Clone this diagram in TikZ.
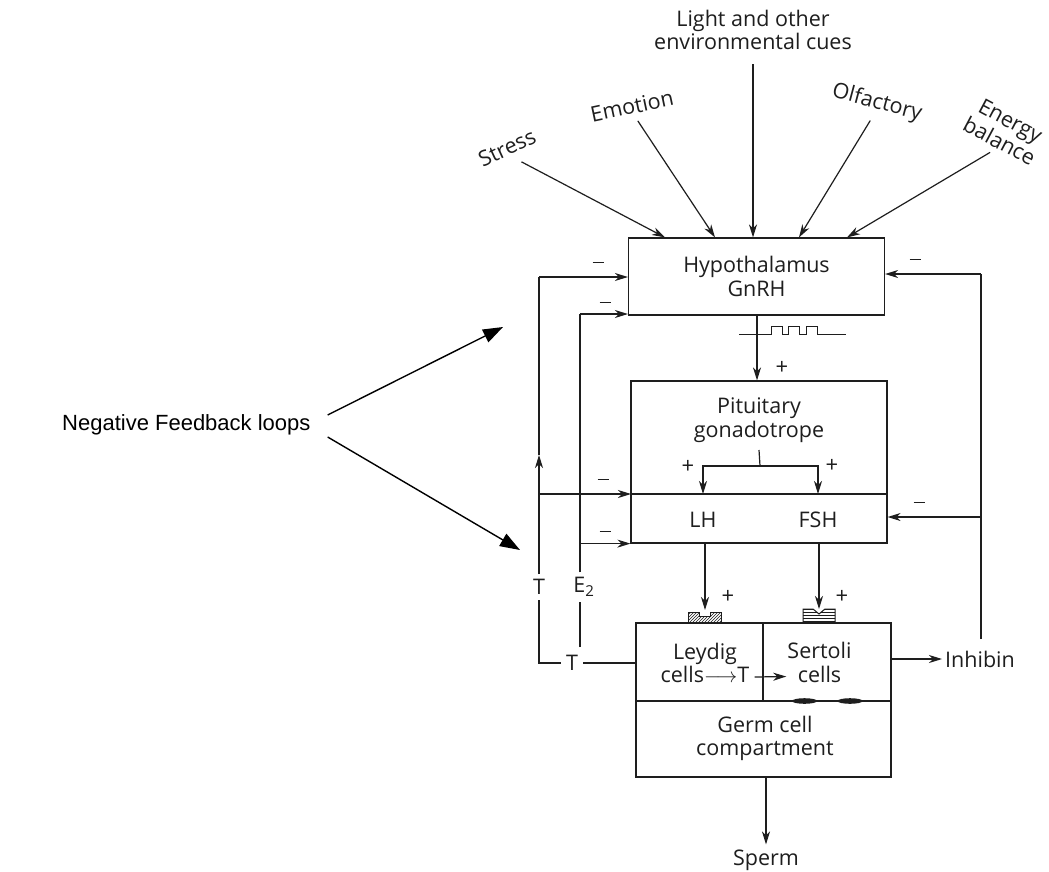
\documentclass[tikz,border=0pt]{standalone}
\usepackage{fontspec}
\setmainfont{Open Sans}
\newfontfamily\notefont{Liberation Sans}
\usetikzlibrary{arrows.meta,positioning,patterns}
\definecolor{inkGrey}{RGB}{30,30,30}
\tikzset{
  organ/.style={draw=inkGrey,line width=1.2pt,inner sep=0pt},
  lbl/.style={text=inkGrey,font=\fontsize{21.5}{23.5}\selectfont,align=center,inner sep=1pt},
  sgn/.style={text=inkGrey,font=\fontsize{22}{22}\selectfont,inner sep=0pt},
  wire/.style={draw=inkGrey,line width=1.2pt},
  arr/.style={wire,-{Stealth[length=13pt,width=8pt,inset=4pt]}},
  bigarr/.style={draw=black,line width=1.4pt,-{Triangle[length=20pt,width=14pt]}}
}
\newcommand{\minussign}{\rule[0.25em]{11pt}{1.3pt}}

\begin{document}
\begin{tikzpicture}[x=1pt,y=-1pt]
  \useasboundingbox (0,0) rectangle (1049,871);
  \fill[white] (0,0) rectangle (1049,871);

  % boites principales
  \node[organ,lbl,minimum width=256pt,minimum height=77pt] (hyp) at (756.5,276.5) {Hypothalamus\\GnRH};
  \node[organ,minimum width=256pt,minimum height=162pt] (pit) at (759,462) {};
  \node[organ,minimum width=255pt,minimum height=154pt] (tes) at (763.5,700) {};

  \coordinate (dvL) at (631,494);
  \coordinate (dvR) at (887,494);
  \draw[wire] (dvL) -- (dvR);
  \node[lbl] (gona) at (759,420) {Pituitary\\gonadotrope};
  \node[lbl] (lh) at (703,520) {LH};
  \node[lbl] (fsh) at (818,520) {FSH};

  \coordinate (tsTop) at (763,623);
  \coordinate (tsMid) at (763,701);
  \draw[wire] (tsTop) -- (tsMid);
  \draw[wire] (tes.west |- tsMid) -- (tes.east |- tsMid);
  \node[lbl] (ley) at (705,663) {Leydig\\cells$\longrightarrow$T};
  \node[lbl] (ser) at (819.5,662.5) {Sertoli\\cells};
  \node[lbl] (germ) at (765,738.5) {Germ cell\\compartment};
  \node[lbl,anchor=west,inner sep=3pt] (inh) at (942,659) {Inhibin};
  \node[lbl] (sperm) at (766,860) {Sperm};

  % entrees vers l'hypothalamus
  \node[lbl] (light) at (753,30) {Light and other\\environmental cues};
  \node[lbl,rotate=25] (stress) at (507,148) {Stress};
  \node[lbl,rotate=12] (emo) at (632,106) {Emotion};
  \node[lbl,rotate=-15] (olf) at (877,103) {Olfactory};
  \node[lbl,rotate=-28] (ener) at (1005,131) {Energy\\balance};
  \draw[arr,shorten <=12pt] (stress.south) -- ([xshift=-91.5pt]hyp.north);
  \draw[arr,shorten <=7pt] (emo.south) -- ([xshift=-41.5pt]hyp.north);
  \draw[arr,shorten <=13pt] (light.south) -- (light.south |- hyp.north);
  \draw[arr,shorten <=7pt] (olf.south) -- ([xshift=42.5pt]hyp.north);
  \draw[arr,shorten <=6pt] (ener.south) -- ([xshift=90.5pt]hyp.north);

  % GnRH pulsatile
  \draw[arr] (hyp.south -| 757,0) -- (pit.north -| 757,0);
  \draw[wire,line width=1pt] (739,334) -- (771,334) -- (771,326) -- (782,326) -- (782,334)
    -- (788,334) -- (788,326) -- (799,326) -- (799,334) -- (806,334) -- (806,326)
    -- (817,326) -- (817,334) -- (846,334);
  \node[sgn] (pGn) at (782,368) {+};

  % LH / FSH
  \coordinate (br) at (760,466);
  \draw[wire] (gona.south |- 0,450) -- (br);
  \draw[arr] (br) -| (lh.north |- dvL);
  \draw[arr] (br) -| (fsh.north |- dvL);
  \node[sgn] (pLH) at (688,467) {+};
  \node[sgn] (pFSH) at (832,466) {+};

  % recepteurs
  \draw[wire,line width=1pt,pattern=north east lines,pattern color=inkGrey]
    (688,623) -- (688,612) -- (699,612) -- (699,616) -- (710,616) -- (710,612) -- (721,612) -- (721,623) -- cycle;
  \draw[wire,line width=1pt,pattern=horizontal lines,pattern color=inkGrey]
    (803,623) -- (803,609) -- (813,609) -- (819,614) -- (825,609) -- (835,609) -- (835,623) -- cycle;
  \draw[arr] (705,543) -- (705,610);
  \draw[arr] (819,543) -- (819,609);
  \node[sgn] (pLey) at (728,597) {+};
  \node[sgn] (pSer) at (842,597) {+};
  \fill[inkGrey] (804.5,701) ellipse [x radius=12.5pt,y radius=2.8pt];
  \fill[inkGrey] (850,701) ellipse [x radius=12.5pt,y radius=2.8pt];

  \draw[arr] ([xshift=4pt,yshift=-14pt]ley.east) -- ([yshift=-14pt]ser.west);
  \draw[arr] (tes.east |- inh) -- (inh.west);
  \draw[arr] (tes.south -| sperm) -- ([yshift=4pt]sperm.north);

  % retrocontrole par T
  \node[lbl,inner sep=5pt] (tUp) at (539,587) {T};
  \node[lbl,inner sep=5pt] (tLow) at (572,663) {T};
  \coordinate (tMid) at (539,455);
  \coordinate (tTop) at (539,277);
  \draw[wire] (tes.west |- tLow) -- (tLow.east);
  \draw[wire] (tLow.west) -| (tUp.south);
  \draw[arr] (tUp.north) -- (tMid);
  \draw[wire] (tMid) -- (tTop);
  \draw[arr] (tTop) -- (tTop -| hyp.west);
  \draw[arr] (tTop |- dvL) -- (dvL);
  \node[sgn] (mT1) at (598,265) {\minussign};
  \node[sgn] (mT2) at (603,482) {\minussign};

  % retrocontrole par E2
  \node[lbl,inner sep=5pt] (e2) at (584,587) {E\textsubscript{2}};
  \coordinate (eLow) at (580,647);
  \coordinate (eTop) at (580,314);
  \draw[wire] (eLow) -- (eLow |- e2.south);
  \draw[wire] (eTop |- e2.north) -- (eTop);
  \draw[arr] (eTop) -- (eTop -| hyp.west);
  \draw[arr] (eTop |- pit.south west) -- (pit.south west);
  \node[sgn] (mE1) at (605,305) {\minussign};
  \node[sgn] (mE2) at (605,534) {\minussign};

  % retrocontrole par l'inhibine
  \coordinate (iLow) at (981,639);
  \coordinate (iTop) at (981,274);
  \coordinate (iPit) at (981,517);
  \draw[wire] (iLow) -- (iTop);
  \draw[arr] (iTop) -- (iTop -| hyp.east);
  \draw[arr] (iPit) -- (iPit -| pit.east);
  \node[sgn] (mI1) at (915,262) {\minussign};
  \node[sgn] (mI2) at (919,505) {\minussign};

  % annotation
  \node[font=\notefont\fontsize{22}{26}\selectfont,anchor=west,inner sep=0pt] (nfl) at (62,425) {Negative Feedback loops};
  \coordinate (fbHyp) at (503,327);
  \coordinate (fbPit) at (520,550);
  \draw[bigarr] ([shift={(17pt,10pt)}]nfl.east) -- (fbHyp);
  \draw[bigarr] ([shift={(17pt,-12pt)}]nfl.east) -- (fbPit);
\end{tikzpicture}
\end{document}
